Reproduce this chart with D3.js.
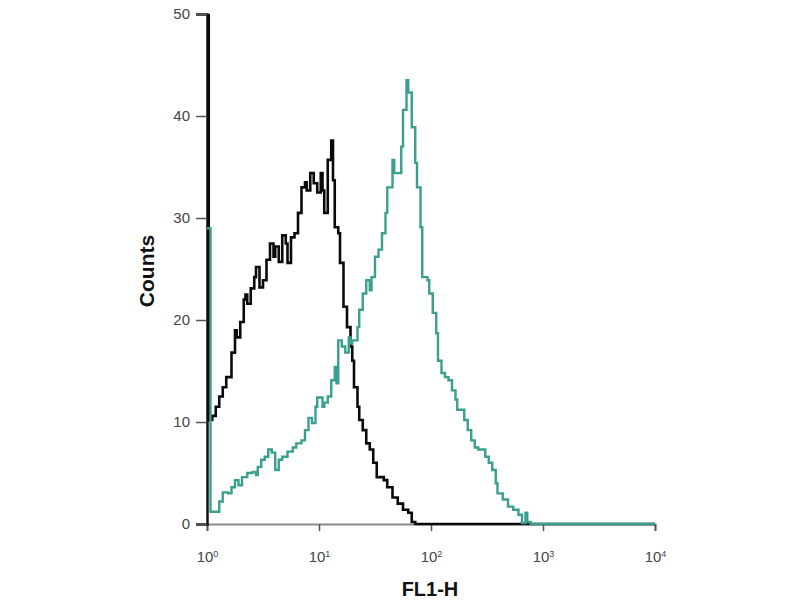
<!DOCTYPE html>
<html><head><meta charset="utf-8">
<script src="https://cdn.jsdelivr.net/npm/d3@7"></script>
<style>body{margin:0;background:#fff}svg{display:block}</style>
</head><body>
<svg id="c" width="800" height="600"></svg>
<script>
// channel numbers (64 channels per decade) and counts
const blackCh = [0,1,3,5,7,9,11,14,16,17,19,21,22,23,25,27,28,30,32,34,36,38,39,41,43,45,46,48,50,52,54,56,57,59,61,63,65,66,67,69,71,72,73,75,76,78,80,82,83,84,86,87,89,91,93,95,97,101,103,106,109,112,115,117,119];
const blackCount = [60,10.2,10.6,11.5,12.5,13.4,14.4,16.8,19,18.3,19.8,22,22.5,21.6,23.1,24.2,25.2,23.2,23.9,25.9,27.5,26.2,27.2,25.7,28.3,27.5,25.6,28.1,28.5,30.5,33,33.5,32.7,34.4,33.4,32.5,34.4,32.7,30.5,35.7,37.6,33.7,29.1,28.5,25.6,21.3,19.3,17.4,16,13.4,11.5,10.2,9.2,7.9,7.3,6,4.6,4.3,3.6,2.6,2,1.4,1.1,0.2,0];
const tealCh = [0,2,7,9,12,14,16,18,20,23,26,28,29,31,33,35,37,39,41,43,46,49,51,54,56,58,60,62,63,66,67,69,71,73,74,75,77,79,81,82,83,86,87,89,91,93,94,96,98,100,102,103,106,107,111,112,114,115,117,119,120,122,123,126,127,129,131,132,134,136,138,140,142,143,147,149,151,153,155,159,161,163,165,166,169,172,175,178,180,182,183,185];
const tealCount = [29,1.2,2.2,3.1,3.0,3.6,4.3,3.8,4.6,5,5.1,4.8,5.6,6.3,6.6,7.3,7,5.3,6.3,6.6,7.1,7.5,7.9,8.2,9.2,10.4,9.9,11.5,12.4,11.5,11.9,12.5,14.1,15.4,13.8,18,17.4,16.8,18.3,17.7,18,19.3,21,22.6,23.9,22.9,24.2,26.2,26.9,28.5,30.5,33,35.7,34.4,37,40.6,43.5,42.3,38.9,35.4,33,29.1,24.2,23.9,22.6,20.7,18.7,16,14.8,14.4,14.1,13.1,12.2,11.2,10.2,9.2,8.2,7.5,7.3,6.6,6,5.3,4,3,2.4,1.7,1.4,0.9,0.1,1.1,0.2,0];
const channelsPerDecade = 64, lastChannel = 256;
const yTicks = [0,10,20,30,40,50];
const xTicks = [1,10,100,1000,10000];
const xTickExp = ["0","1","2","3","4"];

const svg = d3.select("#c");
const x = d3.scaleLog().domain([1,1e4]).range([207,655]);
const y = d3.scaleLinear().domain([0,50]).range([524,14]);
const chToVal = c => Math.pow(10, c/channelsPerDecade);

svg.append("defs").append("clipPath").attr("id","plot")
  .append("rect").attr("x",205).attr("y",y(50)).attr("width",455).attr("height",y(0)-y(50)+2);

// x axis
const gx = svg.append("g").attr("transform",`translate(0,${y(0)})`);
gx.call(d3.axisBottom(x).tickValues(xTicks).tickSize(7).tickFormat(""));
gx.select(".domain").attr("stroke","#8a8a8a").attr("stroke-width",2.2);
gx.selectAll(".tick line").attr("stroke","#555").attr("stroke-width",1.5);
gx.selectAll(".tick").append("text")
  .attr("y",38).attr("text-anchor","middle").attr("fill","#444")
  .style("font-family","'Liberation Sans Narrow','Arial Narrow',Arial,sans-serif").style("font-size","15px")
  .each(function(d,i){
    const t = d3.select(this);
    t.append("tspan").text("10");
    t.append("tspan").attr("dy",-5).style("font-size","9px").text(xTickExp[i]);
  });

// y axis
const gy = svg.append("g").attr("transform",`translate(${x(1)},0)`);
gy.call(d3.axisLeft(y).tickValues(yTicks).tickSize(11).tickPadding(6));
gy.select(".domain").attr("stroke","#111").attr("stroke-width",2.5);
gy.selectAll(".tick line").attr("stroke","#555").attr("stroke-width",1.5);
gy.selectAll(".tick text").attr("fill","#444")
  .style("font-family","'Liberation Sans Narrow','Arial Narrow',Arial,sans-serif").style("font-size","15px");

const line = d3.line().curve(d3.curveStepAfter).x(d=>x(chToVal(d[0]))).y(d=>y(d[1]));
const mk = (ch,cnt) => { const a = ch.map((c,i)=>[c,cnt[i]]); a.push([lastChannel,0]); return a; };

const plot = svg.append("g").attr("clip-path","url(#plot)");
plot.append("path").attr("d",line(mk(blackCh,blackCount)))
  .attr("fill","none").attr("stroke","#0a0a0a").attr("stroke-width",2.6).attr("stroke-linejoin","miter");
plot.append("path").attr("d",line(mk(tealCh,tealCount)))
  .attr("fill","none").attr("stroke","#3aa08d").attr("stroke-width",2.4).attr("stroke-linejoin","miter");

// axis titles
svg.append("text").attr("transform",`translate(154,271) rotate(-90)`).attr("text-anchor","middle")
  .style("font-family","Arial,'Liberation Sans',sans-serif").style("font-weight","bold").style("font-size","21px")
  .attr("fill","#111").text("Counts");
svg.append("text").attr("x",430).attr("y",596).attr("text-anchor","middle")
  .style("font-family","Arial,'Liberation Sans',sans-serif").style("font-weight","bold").style("font-size","20px")
  .attr("fill","#111").text("FL1-H");
</script>
</body></html>
